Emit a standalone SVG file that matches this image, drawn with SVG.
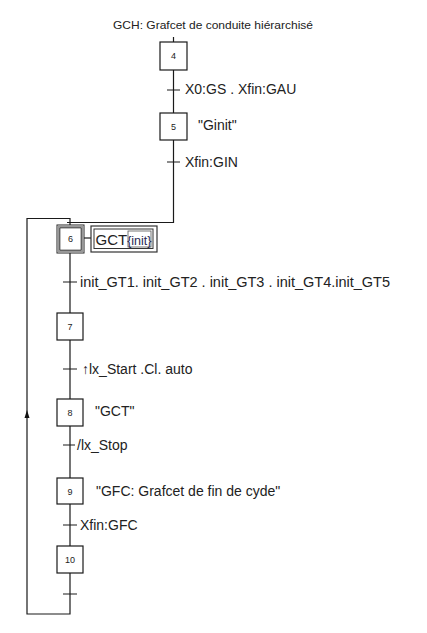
<svg xmlns="http://www.w3.org/2000/svg" width="427" height="633" viewBox="0 0 427 633">
<style>
.ln{stroke:#1a1a1a;stroke-width:1.2;fill:none}
.box{stroke:#1a1a1a;stroke-width:1.2;fill:#fff}
.num{font-family:"Liberation Sans",Arial,sans-serif;font-size:9px;fill:#222;text-anchor:middle}
.lbl{font-family:"Liberation Sans",Arial,sans-serif;font-size:14px;fill:#222}
.ttl{font-family:"Liberation Sans",Arial,sans-serif;font-size:11px;fill:#222}
</style>
<rect width="427" height="633" fill="#fff"/>
<text class="ttl" x="113" y="29" textLength="200" lengthAdjust="spacingAndGlyphs">GCH: Grafcet de conduite hiérarchisé</text>
<g id="connectors">
<path class="ln" d="M173.5 37V42M173.5 70V113M173.5 140V222.5H67"/>
<path class="ln" d="M167 90H180M167 162H180"/>
<path class="ln" d="M70 253V313M70 340V399M70 426V478M70 504V546M70 573V614H27V218.5H70V225"/>
<path class="ln" d="M63 282H77M63 369H77M63 445H75M63 525H77M63 594H77"/>
<path class="ln" d="M84 238H91"/>
<polygon points="27,410 24.5,418 29.5,418" fill="#111"/>
</g>
<g id="t4"><text class="lbl" x="185" y="94">X0:GS . Xfin:GAU</text></g>
<g id="t5"><text class="lbl" x="185" y="167">Xfin:GIN</text></g>
<g id="t6"><text class="lbl" x="80" y="287" textLength="310" lengthAdjust="spacingAndGlyphs">init_GT1. init_GT2 . init_GT3 . init_GT4.init_GT5</text></g>
<g id="t7"><text class="lbl" x="82" y="374">↑lx_Start .Cl. auto</text></g>
<g id="t8"><text class="lbl" x="77" y="450">/lx_Stop</text></g>
<g id="t9"><text class="lbl" x="80" y="530">Xfin:GFC</text></g>
<g id="step4"><rect class="box" x="160" y="42" width="27" height="28"/><text class="num" x="173.5" y="59">4</text></g>
<g id="step5"><rect class="box" x="160" y="113" width="27" height="27"/><text class="num" x="173.5" y="129.5">5</text><text class="lbl" x="198" y="130">"Ginit"</text></g>
<g id="step6">
<rect x="57" y="225" width="27" height="28" fill="#fff" stroke="#222" stroke-width="1"/>
<rect x="58.3" y="226.3" width="24.4" height="25.4" fill="none" stroke="#999" stroke-width="1.4"/>
<rect x="59.8" y="227.8" width="21.4" height="22.4" fill="#fff" stroke="#222" stroke-width="1"/>
<text class="num" x="70.5" y="242">6</text>
</g>
<g id="action6">
<rect x="91" y="226" width="66" height="26" fill="#fff" stroke="#333" stroke-width="1.2"/>
<rect x="94" y="229" width="59" height="19.5" fill="none" stroke="#333" stroke-width="1"/>
<rect x="128" y="231" width="23" height="16" fill="none" stroke="#555" stroke-width="0.8"/>
<text x="95.5" y="245" font-family="&quot;Liberation Sans&quot;,Arial,sans-serif" font-size="15" fill="#222">GCT<tspan font-size="12.5" fill="#2a2a55">{init}</tspan></text>
</g>
<g id="step7"><rect class="box" x="57" y="313" width="26" height="27"/><text class="num" x="70" y="330">7</text></g>
<g id="step8"><rect class="box" x="57" y="399" width="26" height="27"/><text class="num" x="70" y="416">8</text><text class="lbl" x="95" y="416">"GCT"</text></g>
<g id="step9"><rect class="box" x="57" y="478" width="26" height="26"/><text class="num" x="70" y="494.5">9</text><text class="lbl" x="96" y="496">"GFC: Grafcet de fin de cyde"</text></g>
<g id="step10"><rect class="box" x="57" y="546" width="26" height="27"/><text class="num" x="70" y="563">10</text></g>
</svg>
